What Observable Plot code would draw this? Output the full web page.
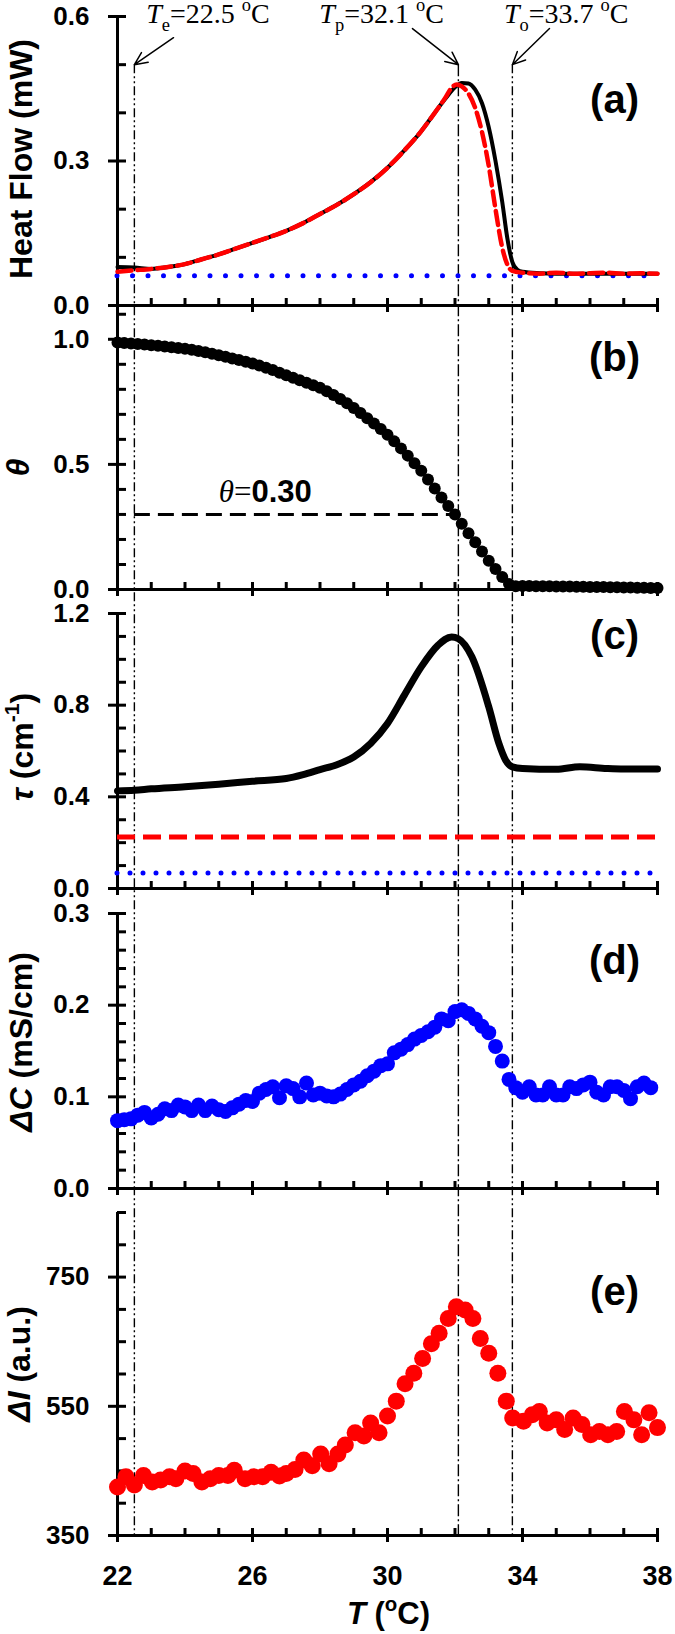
<!DOCTYPE html>
<html>
<head>
<meta charset="utf-8">
<script src="https://cdn.jsdelivr.net/npm/d3@7"></script>
<script src="https://cdn.jsdelivr.net/npm/@observablehq/plot@0.6"></script>
<style>
  html, body { margin: 0; padding: 0; background: #fff; }
  #fig { position: relative; width: 675px; height: 1634px; overflow: hidden; background: #fff; }
  #fig svg { position: absolute; left: 0; overflow: visible; }
</style>
</head>
<body>
<div id="fig"></div>
<script>
const SANS = "'Liberation Sans', Arial, Helvetica, sans-serif";
const SERIF = "'Liberation Serif', 'Times New Roman', Times, serif";
const BLUE = "#0000ff";
const RED = "#ff0000";

// ---------------- data ----------------
const xDomain = [22, 38];
const xMajorTicks = [22, 26, 30, 34, 38];
const xMinorTicks = [23, 24, 25, 27, 28, 29, 31, 32, 33, 35, 36, 37];

// characteristic temperatures (Te, Tp, To)
const charNames = ["e", "p", "o"];
const charTemps = [22.5, 32.1, 33.7];
const charLabelT = [22.85, 27.98, 33.45];   // where each label starts (°C)
const arrowTailT = [23.66, 30.74, 34.8];
const arrowTailY = [0.556, 0.575, 0.575];
const arrowTipY = 0.5;
const labelY = 0.605;

// (a) heat flow
const hfMeasT = [22.0,22.5,23.0,23.5,24.0,24.5,25.0,25.5,26.0,26.5,27.0,27.5,28.0,28.5,29.0,29.5,30.0,30.5,31.0,31.4,31.7,32.0,32.2,32.4,32.6,32.8,33.0,33.2,33.4,33.55,33.7,33.85,34.0,34.5,35.0,36.0,37.0,38.0];
const hfMeasV = [0.080,0.079,0.076,0.080,0.086,0.096,0.106,0.118,0.130,0.142,0.155,0.171,0.190,0.209,0.231,0.256,0.286,0.322,0.362,0.400,0.428,0.453,0.462,0.461,0.448,0.420,0.370,0.300,0.215,0.140,0.090,0.074,0.070,0.067,0.066,0.066,0.066,0.066];
const hfFitT = [22.0,22.5,23.0,23.5,24.0,24.5,25.0,25.5,26.0,26.5,27.0,27.5,28.0,28.5,29.0,29.5,30.0,30.5,31.0,31.4,31.7,31.9,32.05,32.2,32.4,32.6,32.8,33.0,33.2,33.4,33.55,33.7,34.0,34.5,35.0,35.5,36.0,36.5,37.0,37.5,38.0];
const hfFitV = [0.070,0.073,0.076,0.080,0.086,0.096,0.106,0.118,0.130,0.142,0.155,0.171,0.190,0.209,0.231,0.256,0.286,0.322,0.362,0.400,0.430,0.452,0.459,0.455,0.440,0.410,0.360,0.290,0.200,0.120,0.085,0.072,0.068,0.066,0.068,0.066,0.067,0.068,0.066,0.067,0.066];
const hfBaseline = 0.062;

// (b) theta
const thetaT = [22.0,22.2,22.4,22.6,22.8,23.0,23.2,23.4,23.6,23.8,24.0,24.2,24.4,24.6,24.8,25.0,25.2,25.4,25.6,25.8,26.0,26.2,26.4,26.6,26.8,27.0,27.2,27.4,27.6,27.8,28.0,28.2,28.4,28.6,28.8,29.0,29.2,29.4,29.6,29.8,30.0,30.2,30.4,30.6,30.8,31.0,31.2,31.4,31.6,31.8,32.0,32.2,32.4,32.6,32.8,33.0,33.2,33.4,33.6,33.8,34.0,34.2,34.4,34.6,34.8,35.0,35.2,35.4,35.6,35.8,36.0,36.2,36.4,36.6,36.8,37.0,37.2,37.4,37.6,37.8,38.0];
const thetaV = [0.987,0.985,0.983,0.981,0.979,0.976,0.974,0.971,0.968,0.965,0.962,0.958,0.953,0.948,0.942,0.936,0.930,0.923,0.917,0.910,0.903,0.895,0.886,0.877,0.866,0.856,0.846,0.836,0.826,0.816,0.806,0.792,0.777,0.761,0.744,0.725,0.705,0.684,0.663,0.641,0.618,0.592,0.564,0.535,0.505,0.475,0.440,0.404,0.368,0.334,0.300,0.263,0.225,0.189,0.152,0.115,0.082,0.050,0.022,0.013,0.014,0.014,0.013,0.013,0.013,0.012,0.012,0.012,0.011,0.011,0.010,0.010,0.010,0.009,0.009,0.008,0.008,0.007,0.007,0.006,0.006];
const thetaMark = 0.30;

// (c) tau
const tauT = [22.0,22.5,23.0,24.0,25.0,26.0,27.0,27.5,28.0,28.5,29.0,29.5,30.0,30.5,31.0,31.5,31.9,32.1,32.5,33.0,33.3,33.5,33.7,34.0,35.0,35.7,36.5,37.0,38.0];
const tauV = [0.426,0.429,0.435,0.444,0.455,0.468,0.480,0.497,0.519,0.540,0.574,0.633,0.720,0.844,0.967,1.062,1.098,1.090,1.011,0.793,0.633,0.560,0.531,0.524,0.520,0.531,0.524,0.522,0.522];
const tauRed = 0.225;
const tauBlue = 0.068;

// (d) delta C
const dcT = [22.0,22.2,22.4,22.6,22.8,23.0,23.2,23.4,23.6,23.8,24.0,24.2,24.4,24.6,24.8,25.0,25.2,25.4,25.6,25.8,26.0,26.2,26.4,26.6,26.8,27.0,27.2,27.4,27.6,27.8,28.0,28.2,28.4,28.6,28.8,29.0,29.2,29.4,29.6,29.8,30.0,30.2,30.4,30.6,30.8,31.0,31.2,31.4,31.6,31.8,32.0,32.2,32.4,32.6,32.8,33.0,33.2,33.4,33.6,33.8,34.0,34.2,34.4,34.6,34.8,35.0,35.2,35.4,35.6,35.8,36.0,36.2,36.4,36.6,36.8,37.0,37.2,37.4,37.6,37.8];
const dcV = [0.074,0.075,0.076,0.080,0.083,0.077,0.081,0.087,0.085,0.091,0.089,0.085,0.091,0.085,0.090,0.086,0.084,0.088,0.092,0.096,0.095,0.104,0.108,0.111,0.099,0.112,0.109,0.100,0.115,0.102,0.104,0.101,0.100,0.103,0.108,0.113,0.117,0.123,0.128,0.134,0.136,0.148,0.152,0.157,0.163,0.167,0.171,0.176,0.185,0.183,0.193,0.195,0.191,0.185,0.177,0.170,0.155,0.139,0.119,0.110,0.105,0.111,0.102,0.102,0.111,0.102,0.102,0.111,0.109,0.113,0.116,0.105,0.102,0.111,0.111,0.107,0.098,0.111,0.115,0.110];

// (e) delta I
const diT = [22.0,22.25,22.5,22.77,23.03,23.28,23.54,23.73,24.0,24.24,24.5,24.75,25.0,25.27,25.46,25.78,26.04,26.3,26.55,26.8,27.0,27.26,27.52,27.77,28.02,28.27,28.53,28.75,29.04,29.3,29.5,29.75,30.0,30.26,30.52,30.78,31.04,31.3,31.53,31.8,32.04,32.3,32.53,32.75,33.0,33.27,33.52,33.71,34.03,34.29,34.5,34.73,35.0,35.25,35.5,35.76,36.02,36.28,36.53,36.79,37.02,37.3,37.53,37.75,38.0];
const diV = [425,441,428,443,433,436,441,438,450,446,433,438,443,443,451,438,441,441,448,442,446,452,467,458,476,461,476,490,509,504,524,509,535,558,585,601,624,647,663,686,704,699,686,655,632,601,558,532,527,537,542,524,529,514,532,522,506,511,506,511,542,529,506,540,517];

// ---------------- layout ----------------
const W = 675, ML = 117, MR = 18;
const fmt1 = d3.format(".1f");
const panels = [
  {id: "a", top: 0, height: 322, mt: 16, mb: 17, yDomain: [0, 0.6],
   yMajor: [0, 0.3, 0.6], yMinor: [0.1, 0.2, 0.4, 0.5], fmt: fmt1,
   title: "Heat Flow (mW)", tdx: 21 - ML, tdy: -2, tag: "(a)", tagDy: 84},
  {id: "b", top: 290, height: 312, mt: 15, mb: 13, yDomain: [0, 1.135],
   yMajor: [0, 0.5, 1.0], yMinor: [0.1, 0.2, 0.3, 0.4, 0.6, 0.7, 0.8, 0.9, 1.1], fmt: fmt1,
   title: "θ", tdx: 18 - ML, tdy: 20, tag: "(b)", tagDy: 53},
  {id: "c", top: 595, height: 310, mt: 18, mb: 17, yDomain: [0, 1.2],
   yMajor: [0, 0.4, 0.8, 1.2], yMinor: [0.1, 0.2, 0.3, 0.5, 0.6, 0.7, 0.9, 1.0, 1.1], fmt: fmt1,
   title: "τ (cm-1)", tdx: 22 - ML, tdy: -4, tag: "(c)", tagDy: 23},
  {id: "d", top: 895, height: 310, mt: 18, mb: 17, yDomain: [0, 0.3],
   yMajor: [0, 0.1, 0.2, 0.3], yMinor: [0.02, 0.04, 0.06, 0.08, 0.12, 0.14, 0.16, 0.18, 0.22, 0.24, 0.26, 0.28], fmt: fmt1,
   title: "ΔC (mS/cm)", tdx: 21 - ML, tdy: -9, tag: "(d)", tagDy: 48},
  {id: "e", top: 1195, height: 439, mt: 17, mb: 99, yDomain: [350, 850],
   yMajor: [350, 550, 750], yMinor: [400, 450, 500, 600, 650, 700, 800, 850], fmt: d => String(d),
   title: "ΔI (a.u.)", tdx: 19 - ML, tdy: -10, tag: "(e)", tagDy: 80, xLabels: true}
];

function dataMarks(id) {
  switch (id) {
    case "a": return [
      Plot.ruleY([hfBaseline], {stroke: BLUE, strokeWidth: 5, strokeDasharray: "0,15.5", strokeLinecap: "round"}),
      Plot.line(hfMeasT, {x: hfMeasT, y: hfMeasV, stroke: "black", strokeWidth: 4, curve: "monotone-x"}),
      Plot.line(hfFitT, {x: hfFitT, y: hfFitV, stroke: RED, strokeWidth: 4.5, strokeDasharray: "14,6", curve: "monotone-x"}),
      Plot.arrow(charTemps, {x1: arrowTailT, y1: arrowTailY, x2: charTemps, y2: arrowTipY, stroke: "black", strokeWidth: 1.5, headLength: 14, headAngle: 50}),
      Plot.text(charTemps, {x: charLabelT, y: labelY, text: (d, i) => `T${charNames[i]}=${d} oC`, textAnchor: "start", lineAnchor: "middle", fontSize: 28, fontFamily: SERIF})
    ];
    case "b": return [
      Plot.ruleY([thetaMark], {x1: charTemps[0], x2: charTemps[1], stroke: "black", strokeWidth: 3, strokeDasharray: "16,8"}),
      Plot.dot(thetaT, {x: thetaT, y: thetaV, r: 6, fill: "black"}),
      Plot.text([thetaMark], {x: 25.0, y: 0.388, text: d => `θ=${d.toFixed(2)}`, textAnchor: "start", lineAnchor: "middle", fontSize: 31, fontFamily: SERIF})
    ];
    case "c": return [
      Plot.ruleY([tauRed], {stroke: RED, strokeWidth: 5, strokeDasharray: "18,8"}),
      Plot.ruleY([tauBlue], {stroke: BLUE, strokeWidth: 5, strokeDasharray: "0,13", strokeLinecap: "round"}),
      Plot.line(tauT, {x: tauT, y: tauV, stroke: "black", strokeWidth: 7, curve: "monotone-x"})
    ];
    case "d": return [
      Plot.dot(dcT, {x: dcT, y: dcV, r: 7.5, fill: BLUE})
    ];
    case "e": return [
      Plot.dot(diT, {x: diT, y: diV, r: 8.5, fill: RED}),
      Plot.text(["T (oC)"], {frameAnchor: "bottom", dx: 1, dy: 79, fontSize: 31, fontWeight: "bold", fontFamily: SANS, textAnchor: "middle", lineAnchor: "middle"})
    ];
  }
}

function makePanel(p) {
  const marks = [
    Plot.ruleX([xDomain[0]], {stroke: "black", strokeWidth: 3}),
    Plot.ruleY([p.yDomain[0]], {stroke: "black", strokeWidth: 3}),
    Plot.axisY(p.yMajor, {tickSize: 18, dx: 9, tickFormat: () => "", strokeWidth: 3, label: null}),
    Plot.axisY(p.yMinor, {tickSize: 9, dx: 9, tickFormat: () => "", strokeWidth: 3, label: null}),
    Plot.axisY(p.yMajor, {tickSize: 0, tickPadding: 28, tickFormat: p.fmt, fontSize: 26, fontWeight: "bold", fontFamily: SANS, label: null}),
    Plot.axisX(xMajorTicks, {tickSize: 14, dy: -7, tickFormat: () => "", strokeWidth: 3, label: null}),
    Plot.axisX(xMinorTicks, {tickSize: 7, dy: -7, tickFormat: () => "", strokeWidth: 3, label: null}),
    Plot.text([p.title], {frameAnchor: "left", dx: p.tdx, dy: p.tdy, rotate: -90, fontSize: 32, fontWeight: "bold", fontFamily: SANS, textAnchor: "middle", lineAnchor: "middle"}),
    Plot.text([p.tag], {frameAnchor: "top-right", dx: -43, dy: p.tagDy, fontSize: 40, fontWeight: "bold", fontFamily: SANS, textAnchor: "middle", lineAnchor: "middle"}),
    ...dataMarks(p.id)
  ];
  if (p.xLabels) marks.push(Plot.axisX(xMajorTicks, {tickSize: 0, tickPadding: 30, fontSize: 27, fontWeight: "bold", fontFamily: SANS, label: null}));
  return Plot.plot({
    width: W, height: p.height,
    marginLeft: ML, marginRight: MR, marginTop: p.mt, marginBottom: p.mb,
    x: {domain: xDomain},
    y: {domain: p.yDomain},
    style: {background: "transparent", overflow: "visible", fontFamily: SANS, color: "black"},
    marks
  });
}

const fig = document.getElementById("fig");
const plots = panels.map(makePanel);

// vertical reference lines across all panels
const lineTop = plots[0].scale("y").apply(arrowTipY);
const eP = panels[4];
const lineBottom = eP.top + eP.height - eP.mb;
const dashes = ["9,3,2,3,2,3", "12,3,2,3", "9,3,2,3,2,3"];
const overlay = Plot.plot({
  width: W, height: 1634,
  marginLeft: ML, marginRight: MR, marginTop: lineTop, marginBottom: 1634 - lineBottom,
  x: {domain: xDomain, axis: null},
  style: {background: "transparent", overflow: "visible"},
  marks: charTemps.map((t, i) => Plot.ruleX([t], {stroke: "black", strokeWidth: 1.4, strokeDasharray: dashes[i]}))
});
overlay.style.top = "0px";
fig.appendChild(overlay);
plots.forEach((svg, i) => { svg.style.top = panels[i].top + "px"; fig.appendChild(svg); });

// ---------------- rich text (italics, sub/superscripts) ----------------
function rich(el, parts, fs) {
  const sel = d3.select(el);
  sel.text(null);
  let shift = 0;
  for (const [str, flags = "", fam] of parts) {
    const f = flags.split(" ");
    const isSub = f.includes("sub"), isSup = f.includes("sup");
    const target = isSub ? fs * 0.3 : isSup ? -fs * 0.42 : 0;
    const t = sel.append("tspan").text(str);
    if (target - shift !== 0) t.attr("dy", target - shift);
    shift = target;
    if (isSub || isSup) t.attr("font-size", fs * 0.66);
    if (f.includes("italic")) t.attr("font-style", "italic");
    if (f.includes("bold")) t.attr("font-weight", "bold");
    if (fam) t.attr("font-family", fam);
  }
}
const richSpecs = {};
charTemps.forEach((d, i) => {
  richSpecs[`T${charNames[i]}=${d} oC`] = {fs: 28, parts: [["T", "italic"], [charNames[i], "sub"], [`=${d} `], ["o", "sup"], ["C"]]};
});
richSpecs["θ=0.30"] = {fs: 31, parts: [["θ", "italic"], ["="], ["0.30", "bold", SANS]]};
richSpecs["θ"] = {fs: 32, parts: [["θ", "italic"]]};
richSpecs["τ (cm-1)"] = {fs: 32, parts: [["τ", "italic"], [" (cm"], ["-1", "sup"], [")"]]};
richSpecs["ΔC (mS/cm)"] = {fs: 32, parts: [["ΔC", "italic"], [" (mS/cm)"]]};
richSpecs["ΔI (a.u.)"] = {fs: 32, parts: [["ΔI", "italic"], [" (a.u.)"]]};
richSpecs["T (oC)"] = {fs: 31, parts: [["T", "italic"], [" ("], ["o", "sup"], ["C)"]]};
fig.querySelectorAll("text").forEach(el => {
  const spec = richSpecs[el.textContent];
  if (spec) rich(el, spec.parts, spec.fs);
});
</script>
</body>
</html>
